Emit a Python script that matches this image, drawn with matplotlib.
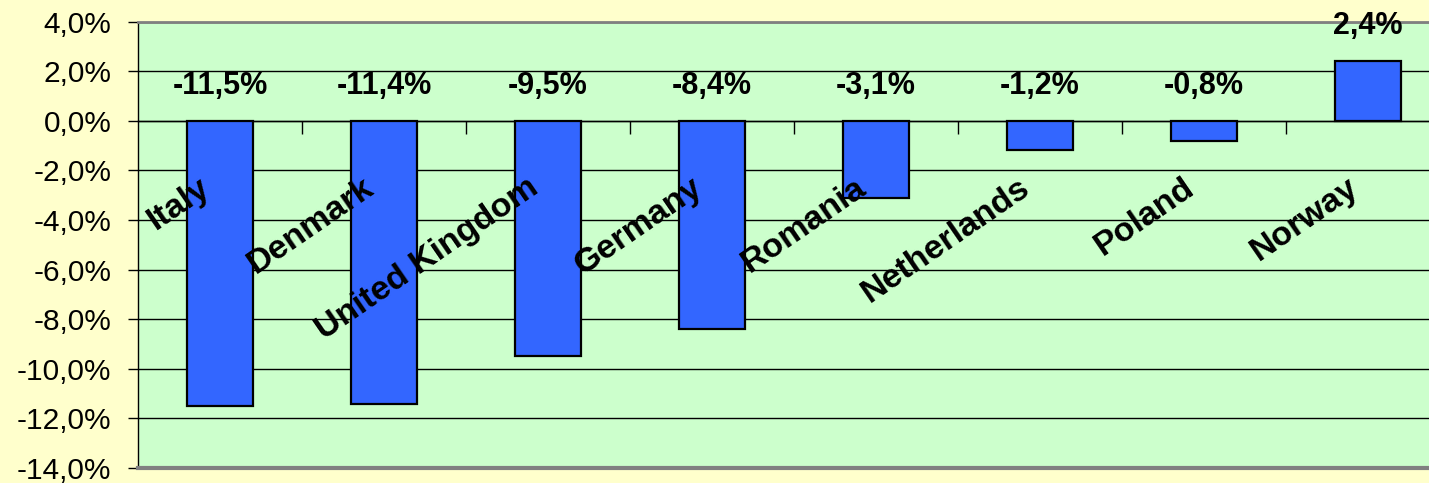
import matplotlib.pyplot as plt
from matplotlib.ticker import FuncFormatter, FixedLocator

plt.rcParams['font.family'] = ['Liberation Sans', 'DejaVu Sans']

countries = ['Italy', 'Denmark', 'United Kingdom', 'Germany', 'Romania',
             'Netherlands', 'Poland', 'Norway']
change = [-11.5, -11.4, -9.5, -8.4, -3.1, -1.2, -0.8, 2.4]
yticks = [-14, -12, -10, -8, -6, -4, -2, 0, 2, 4]

fig = plt.figure(figsize=(14.29, 4.83), dpi=100, facecolor='#FFFFCC')
ax = fig.add_axes([138 / 1429, 15 / 483, 1312 / 1429, 446.5 / 483])
ax.set_facecolor('#CCFFCC')

x = list(range(len(countries)))
ax.bar(x, change, width=0.4, color='#3366FF', edgecolor='black',
       linewidth=1.6, zorder=3)

ax.set_xlim(-0.5, len(countries) - 0.5)
ax.set_ylim(-14, 4)
ax.set_axisbelow(True)
ax.yaxis.set_major_locator(FixedLocator(yticks))
ax.yaxis.set_major_formatter(FuncFormatter(
    lambda v, p: ('%.1f%%' % v).replace('.', ',')))
ax.yaxis.grid(True, color='black', linewidth=1.0)
ax.tick_params(axis='y', labelsize=21.5, length=7, width=1, pad=12,
               direction='out')

# category axis sits on the zero line, ticks between categories
ax.spines['bottom'].set_position(('data', 0))
ax.spines['bottom'].set_linewidth(1.0)
ax.xaxis.set_major_locator(FixedLocator([i + 0.5 for i in x[:-1]]))
ax.tick_params(axis='x', length=9, width=1, direction='out',
               labelbottom=False)
ax.spines['left'].set_linewidth(1.0)
ax.spines['top'].set_color('#808080')
ax.spines['top'].set_linewidth(2)
ax.spines['right'].set_visible(False)
ax.axhline(-14, color='#808080', linewidth=3, clip_on=False, zorder=4)

for i, v in enumerate(change):
    lbl = ('%.1f%%' % v).replace('.', ',')
    ax.annotate(lbl, xy=(i, max(v, 0)), xytext=(0, 25),
                textcoords='offset points', ha='center', va='center',
                fontsize=22, fontweight='bold')
    ax.text(i - 0.05, -2.85, countries[i], rotation=34.5, rotation_mode='anchor',
            ha='right', va='baseline', fontsize=24.5, fontweight='bold',
            zorder=5)

fig.savefig('out.png', dpi=100, facecolor=fig.get_facecolor())
